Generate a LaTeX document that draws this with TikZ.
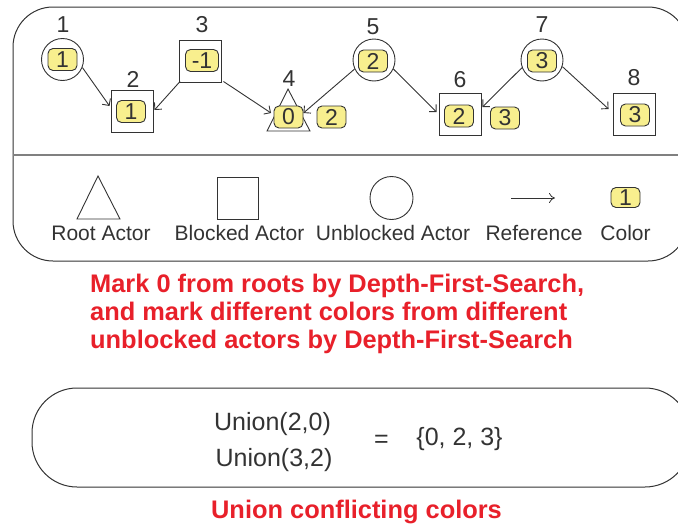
\documentclass[tikz,border=0pt]{standalone}
\usepackage{fontspec}
\setmainfont{Liberation Sans}
\usetikzlibrary{arrows.meta}
\definecolor{ink}{HTML}{333333}
\definecolor{badgefill}{HTML}{F8EF8E}
\definecolor{alert}{HTML}{E8202A}
\definecolor{rulegray}{HTML}{808080}
\tikzset{
  badge/.style={draw=ink, fill=badgefill, line width=0.9pt, rounded corners=5pt,
    minimum width=29pt, minimum height=22pt, inner sep=0pt, text=ink,
    font=\fontsize{23}{23}\selectfont},
  actorlabel/.style={text=ink, inner sep=0pt, font=\fontsize{23}{23}\selectfont},
  blocked/.style={draw=ink, line width=0.9pt, minimum width=42pt, minimum height=42pt, inner sep=0pt},
  unblocked/.style={draw=ink, line width=0.9pt, circle, minimum size=42pt, inner sep=0pt},
  rootshape/.style={draw=ink, line width=0.9pt},
  ref/.style={draw=ink, line width=0.9pt, -{Straight Barb[length=5pt,width=10pt]}},
  legendtext/.style={text=ink, inner sep=0pt, anchor=base, font=\fontsize{21}{21}\selectfont},
  uniontext/.style={text=ink, inner sep=0pt, anchor=base, font=\fontsize{25}{25}\selectfont},
  alerttext/.style={text=alert, inner sep=0pt, font=\bfseries\fontsize{25.4}{25.4}\selectfont},
  panel/.style={draw=ink, line width=1pt},
}
\begin{document}
\begin{tikzpicture}[x=1pt, y=-1pt]
\useasboundingbox (0,0) rectangle (678,525);

% outer panel with graph and legend
\draw[panel, rounded corners=40pt] (13,7) rectangle (688,261);
\draw[rulegray, line width=2pt] (13,155) -- (688,155);

% actors
\node[unblocked] (c1) at (62.5,59.5) {};
\node[blocked]   (s2) at (132,111.5) {};
\node[blocked]   (s3) at (200.5,61) {};
\draw[rootshape] (288,89) -- (310,131) -- (267,131) -- cycle;
\node[unblocked] (c5) at (374,60) {};
\node[blocked]   (s6) at (460,114.5) {};
\node[unblocked] (c7) at (542,60) {};
\node[blocked]   (s8) at (634,114) {};

% actor numbers
\node[actorlabel] (l1) at (63,25) {1};
\node[actorlabel] (l2) at (133,79) {2};
\node[actorlabel] (l3) at (202,25) {3};
\node[actorlabel] (l4) at (289,78.5) {4};
\node[actorlabel] (l5) at (373,27) {5};
\node[actorlabel] (l6) at (460,80) {6};
\node[actorlabel] (l7) at (542,25) {7};
\node[actorlabel] (l8) at (634,78) {8};

% colour marks
\node[badge] (b1) at (62.5,59.5) {1};
\node[badge] (b2) at (131,111.5) {1};
\node[badge, minimum width=33pt] (b3) at (202,60.5) {-1};
\node[badge] (b4) at (288.5,117) {0};
\node[badge] (b4x) at (331.5,117) {2};
\node[badge] (b5) at (373,61) {2};
\node[badge] (b6) at (459,116) {2};
\node[badge] (b6x) at (505,118) {3};
\node[badge] (b7) at (542,61) {3};
\node[badge] (b8) at (635,115) {3};

% references
\draw[ref] (c1.-22) -- ([yshift=5.5pt,xshift=-1pt]s2.west);
\draw[ref] ([xshift=1pt,yshift=1pt]s3.south west) -- ([yshift=1.5pt,xshift=1pt]s2.east);
\draw[ref] ([xshift=1.5pt,yshift=1pt]s3.south east) -- ([yshift=4pt,xshift=-2.5pt]b4.west);
\draw[ref] (c5.205) -- ([yshift=4pt,xshift=0pt]b4.east);
\draw[ref] (c5.-25) -- ([yshift=2.5pt,xshift=-2pt]s6.west);
\draw[ref] (c7.201) -- ([yshift=7.5pt,xshift=1pt]s6.east);
\draw[ref] (c7.-18) -- ([yshift=5pt,xshift=-4pt]s8.west);

% legend
\draw[rootshape] (98,176) -- (120,219) -- (77,219) -- cycle;
\node[blocked, minimum width=41pt] (lgs) at (237.5,198) {};
\node[unblocked, minimum size=43pt] (lgc) at (391.5,198) {};
\coordinate (lga) at (511,198);
\coordinate (lgb) at (555,198);
\draw[ink, line width=0.8pt, -{Computer Modern Rightarrow[length=6pt,width=10pt]}] (lga) -- (lgb);
\node[badge, minimum height=20pt] (lgbadge) at (625.5,197.5) {1};
\node[legendtext] (t1) at (101,240) {Root Actor};
\node[legendtext] (t2) at (239.5,240) {Blocked Actor};
\node[legendtext] (t3) at (393,240) {Unblocked Actor};
\node[legendtext] (t4) at (534,240) {Reference};
\node[legendtext] (t5) at (625.5,240) {Color};

% caption of the marking step
\node[alerttext, anchor=base west] (m1) at (90,292) {Mark 0 from roots by Depth-First-Search,};
\node[alerttext, anchor=base west] (m2) at (90,320) {and mark different colors from different};
\node[alerttext, anchor=base west] (m3) at (90,348) {unblocked actors by Depth-First-Search};

% union panel
\draw[panel, rounded corners=45pt] (32,388) rectangle (690,487);
\node[uniontext] (u1) at (272.5,430) {Union(2,0)};
\node[uniontext] (u2) at (274,466) {Union(3,2)};
\node[uniontext] (eq) at (381.5,447.5) {=};
\node[uniontext] (set) at (459.5,445) {\{0, 2, 3\}};
\node[alerttext, anchor=base] (cap) at (356.5,518) {Union conflicting colors};
\end{tikzpicture}
\end{document}
